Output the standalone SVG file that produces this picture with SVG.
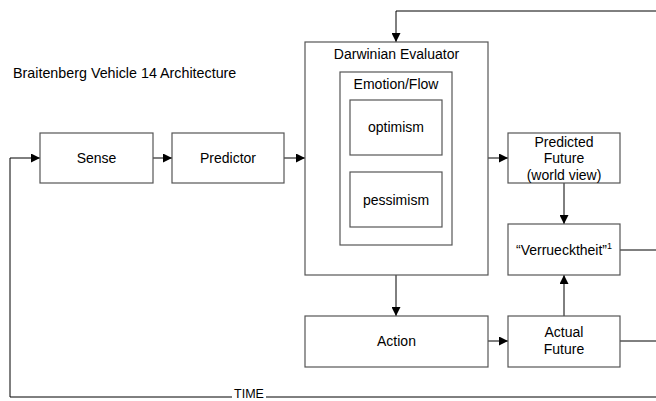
<svg xmlns="http://www.w3.org/2000/svg" width="656" height="401" viewBox="0 0 656 401">
  <style>
    .box { fill: #ffffff; stroke: #555555; stroke-width: 1.2; }
    .lbl { font-family: "Liberation Sans", Arial, sans-serif; font-size: 14px; fill: #000000; text-anchor: middle; }
    .wire { fill: none; stroke: #000000; stroke-width: 1; }
  </style>
  <defs>
    <marker id="arrow" viewBox="0 0 10 10" refX="10" refY="5" markerWidth="9" markerHeight="9" markerUnits="userSpaceOnUse" orient="auto">
      <path d="M0,0 L10,5 L0,10 Z" fill="#000000"/>
    </marker>
  </defs>
  <rect width="656" height="401" fill="#ffffff"/>

  <text x="13" y="78" font-family="Liberation Sans, Arial, sans-serif" font-size="14.3" fill="#000000">Braitenberg Vehicle 14 Architecture</text>

  <g id="connectors">
    <!-- feedback along the top into the evaluator -->
    <polyline class="wire" points="656,11 396,11 396,42" marker-end="url(#arrow)"/>
    <!-- time loop back to sense -->
    <polyline class="wire" points="656,397 10,397 10,158 40,158" marker-end="url(#arrow)"/>
    <line class="wire" x1="153" y1="158" x2="172" y2="158" marker-end="url(#arrow)"/>
    <line class="wire" x1="284" y1="158" x2="305" y2="158" marker-end="url(#arrow)"/>
    <line class="wire" x1="452" y1="158" x2="508" y2="158" marker-end="url(#arrow)"/>
    <line class="wire" x1="564" y1="183" x2="564" y2="224" marker-end="url(#arrow)"/>
    <line class="wire" x1="396" y1="275" x2="396" y2="316" marker-end="url(#arrow)"/>
    <line class="wire" x1="488" y1="341" x2="508" y2="341" marker-end="url(#arrow)"/>
    <line class="wire" x1="564" y1="316" x2="564" y2="275" marker-end="url(#arrow)"/>
    <line class="wire" x1="620" y1="250" x2="656" y2="250"/>
    <line class="wire" x1="620" y1="341" x2="656" y2="341"/>
    <rect x="232" y="388" width="34" height="13" fill="#ffffff"/>
    <text x="249" y="398" font-family="Liberation Sans, Arial, sans-serif" font-size="12.5" fill="#000000" text-anchor="middle">TIME</text>
  </g>

  <g id="sense">
    <rect class="box" x="40" y="133" width="113" height="50"/>
    <text class="lbl" x="96.5" y="163">Sense</text>
  </g>
  <g id="predictor">
    <rect class="box" x="172" y="133" width="112" height="50"/>
    <text class="lbl" x="228" y="163">Predictor</text>
  </g>
  <g id="darwinian-evaluator">
    <rect class="box" x="305" y="42" width="183" height="233"/>
    <text class="lbl" x="396.5" y="59">Darwinian Evaluator</text>
  </g>
  <g id="emotion-flow">
    <rect class="box" x="340" y="72" width="112" height="173"/>
    <text class="lbl" x="396" y="89">Emotion/Flow</text>
  </g>
  <g id="optimism">
    <rect class="box" x="350" y="100" width="92" height="55"/>
    <text class="lbl" x="396" y="132">optimism</text>
  </g>
  <g id="pessimism">
    <rect class="box" x="350" y="172" width="92" height="55"/>
    <text class="lbl" x="396" y="205">pessimism</text>
  </g>
  <g id="predicted-future">
    <rect class="box" x="508" y="133" width="112" height="50"/>
    <text class="lbl" x="564" y="147">Predicted</text>
    <text class="lbl" x="564" y="163">Future</text>
    <text class="lbl" x="564" y="180">(world view)</text>
  </g>
  <g id="verruecktheit">
    <rect class="box" x="508" y="224" width="112" height="51"/>
    <text class="lbl" x="564" y="255">“Verruecktheit”<tspan font-size="9" dy="-6">1</tspan></text>
  </g>
  <g id="action">
    <rect class="box" x="305" y="316" width="183" height="51"/>
    <text class="lbl" x="396.5" y="346">Action</text>
  </g>
  <g id="actual-future">
    <rect class="box" x="508" y="316" width="112" height="51"/>
    <text class="lbl" x="564" y="337">Actual</text>
    <text class="lbl" x="564" y="354">Future</text>
  </g>
</svg>
